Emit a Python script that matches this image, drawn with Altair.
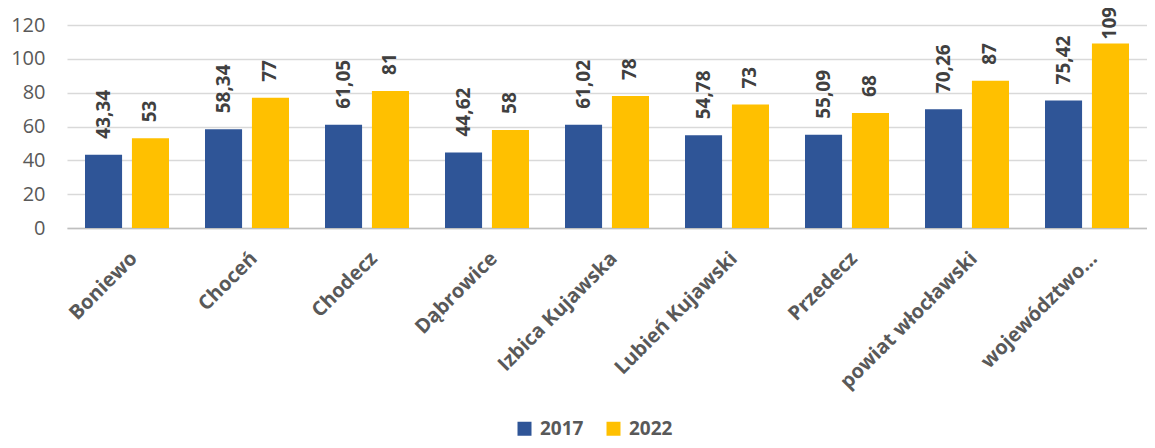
import altair as alt
import pandas as pd

categories = ["Boniewo", "Choceń", "Chodecz", "Dąbrowice", "Izbica Kujawska",
              "Lubień Kujawski", "Przedecz", "powiat włocławski", "województwo…"]
years = ["2017", "2022"]
values_2017 = [43.34, 58.34, 61.05, 44.62, 61.02, 54.78, 55.09, 70.26, 75.42]
values_2022 = [53, 77, 81, 58, 78, 73, 68, 87, 109]
y_ticks = [0, 20, 40, 60, 80, 100, 120]
colors = ["#2F5597", "#FFC000"]

rows = []
for c, a, b in zip(categories, values_2017, values_2022):
    rows.append({"cat": c, "year": "2017", "value": a, "label": str(a).replace(".", ",")})
    rows.append({"cat": c, "year": "2022", "value": b, "label": str(b).replace(".", ",")})
df = pd.DataFrame(rows)

FONT = "Open Sans"

x = alt.X("cat:N", sort=categories, title=None,
          scale=alt.Scale(paddingInner=0.3, paddingOuter=0.15),
          axis=alt.Axis(labelAngle=-45, labelAlign="right", labelBaseline="top",
                        labelFont=FONT, labelFontSize=20, labelFontWeight="bold",
                        labelColor="#595959", labelPadding=20, ticks=False,
                        domainColor="#BFBFBF", domainWidth=1.5, grid=False,
                        labelLimit=400, labelOverlap=False))
xo = alt.XOffset("year:N", sort=years, scale=alt.Scale(paddingInner=0.21))
y = alt.Y("value:Q", title=None,
          scale=alt.Scale(domain=[0, 120], nice=False),
          axis=alt.Axis(values=y_ticks, tickCount=7, labelOverlap=False,
                        labelFont=FONT, labelFontSize=20,
                        labelColor="#595959", ticks=False, domain=False,
                        labelPadding=22, gridColor="#D9D9D9", gridWidth=1.3))

bars = alt.Chart(df).mark_bar().encode(
    x=x, xOffset=xo, y=y,
    color=alt.Color("year:N", sort=years,
                    scale=alt.Scale(domain=years, range=colors),
                    legend=alt.Legend(title=None, orient="none", direction="horizontal",
                                      legendX=448, legendY=394, symbolType="square",
                                      symbolSize=196, symbolStrokeWidth=0,
                                      labelFont=FONT, labelFontSize=19,
                                      labelFontWeight="bold", labelColor="#595959",
                                      labelOffset=6, columnPadding=20)),
)

labels = alt.Chart(df).transform_calculate(
    ly="min(datum.value, 102)"
).mark_text(angle=270, align="left", baseline="middle", dx=16,
            font=FONT, fontSize=19, fontWeight="bold", color="#404040").encode(
    x=alt.X("cat:N", sort=categories), xOffset=alt.XOffset("year:N", sort=years),
    y=alt.Y("ly:Q"),
    text="label:N",
)

chart = (bars + labels).properties(
    width=1080, height=203,
    padding={"left": 59, "top": 17, "right": 0, "bottom": 218},
    autosize=alt.AutoSizeParams(type="none"),
).configure_view(stroke=None)

chart.save("out.html", embed_options={"renderer": "svg", "actions": False})
